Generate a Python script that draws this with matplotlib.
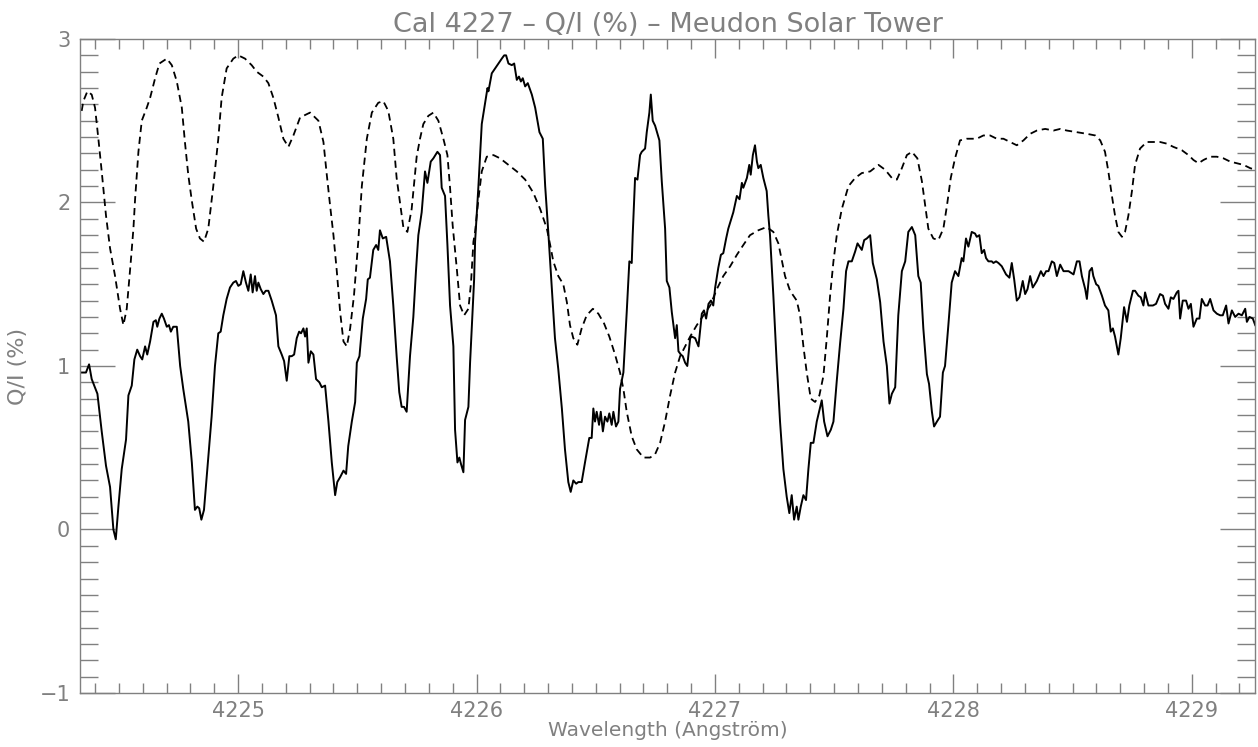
import matplotlib
matplotlib.use("Agg")
import matplotlib.pyplot as plt
from matplotlib.ticker import MultipleLocator

# Q/I (%) observed (solid) - wavelength in Angstrom
wl_obs = [
    4224.337, 4224.362, 4224.375, 4224.386, 4224.410, 4224.428, 4224.446, 4224.463, 4224.477, 4224.487,
    4224.498, 4224.512, 4224.530, 4224.540, 4224.554, 4224.565, 4224.577, 4224.589, 4224.598, 4224.610,
    4224.619, 4224.631, 4224.645, 4224.655, 4224.661, 4224.670, 4224.680, 4224.689, 4224.701, 4224.710,
    4224.718, 4224.728, 4224.743, 4224.757, 4224.770, 4224.791, 4224.806, 4224.819, 4224.829, 4224.837,
    4224.846, 4224.857, 4224.871, 4224.889, 4224.903, 4224.917, 4224.927, 4224.938, 4224.952, 4224.966,
    4224.980, 4224.991, 4225.001, 4225.011, 4225.022, 4225.033, 4225.043, 4225.053, 4225.061, 4225.071,
    4225.078, 4225.085, 4225.095, 4225.106, 4225.116, 4225.127, 4225.141, 4225.159, 4225.169, 4225.183,
    4225.193, 4225.204, 4225.215, 4225.225, 4225.235, 4225.246, 4225.256, 4225.264, 4225.274, 4225.281,
    4225.288, 4225.295, 4225.305, 4225.316, 4225.327, 4225.341, 4225.351, 4225.365, 4225.379, 4225.393,
    4225.407, 4225.416, 4225.428, 4225.442, 4225.453, 4225.462, 4225.477, 4225.491, 4225.498, 4225.509,
    4225.523, 4225.537, 4225.544, 4225.553, 4225.567, 4225.579, 4225.588, 4225.595, 4225.607, 4225.621,
    4225.637, 4225.651, 4225.665, 4225.676, 4225.686, 4225.696, 4225.707, 4225.721, 4225.735, 4225.746,
    4225.756, 4225.770, 4225.784, 4225.794, 4225.808, 4225.819, 4225.836, 4225.847, 4225.854, 4225.868,
    4225.878, 4225.889, 4225.903, 4225.910, 4225.920, 4225.928, 4225.935, 4225.945, 4225.952, 4225.966,
    4225.973, 4225.984, 4225.990, 4225.994, 4226.008, 4226.022, 4226.046, 4226.050, 4226.064, 4226.078,
    4226.092, 4226.106, 4226.116, 4226.124, 4226.134, 4226.148, 4226.158, 4226.169, 4226.178, 4226.186,
    4226.194, 4226.204, 4226.215, 4226.232, 4226.246, 4226.264, 4226.278, 4226.288, 4226.301, 4226.316,
    4226.329, 4226.343, 4226.358, 4226.371, 4226.385, 4226.395, 4226.406, 4226.418, 4226.427, 4226.441,
    4226.455, 4226.473, 4226.483, 4226.490, 4226.497, 4226.504, 4226.514, 4226.521, 4226.530, 4226.539,
    4226.549, 4226.557, 4226.567, 4226.574, 4226.585, 4226.595, 4226.602, 4226.616, 4226.630, 4226.641,
    4226.651, 4226.655, 4226.665, 4226.675, 4226.686, 4226.693, 4226.707, 4226.714, 4226.725, 4226.731,
    4226.739, 4226.749, 4226.767, 4226.777, 4226.791, 4226.798, 4226.809, 4226.819, 4226.833, 4226.840,
    4226.847, 4226.857, 4226.865, 4226.875, 4226.884, 4226.896, 4226.903, 4226.917, 4226.931, 4226.945,
    4226.954, 4226.963, 4226.973, 4226.983, 4226.993, 4227.001, 4227.014, 4227.025, 4227.035, 4227.047,
    4227.056, 4227.077, 4227.092, 4227.103, 4227.113, 4227.119, 4227.134, 4227.144, 4227.150, 4227.159,
    4227.168, 4227.176, 4227.182, 4227.192, 4227.203, 4227.217, 4227.224, 4227.231, 4227.245, 4227.259,
    4227.273, 4227.287, 4227.301, 4227.312, 4227.322, 4227.332, 4227.343, 4227.350, 4227.360, 4227.371,
    4227.382, 4227.392, 4227.402, 4227.413, 4227.427, 4227.448, 4227.458, 4227.472, 4227.486, 4227.497,
    4227.511, 4227.525, 4227.539, 4227.550, 4227.560, 4227.574, 4227.588, 4227.598, 4227.616, 4227.626,
    4227.637, 4227.651, 4227.662, 4227.679, 4227.693, 4227.707, 4227.721, 4227.732, 4227.742, 4227.756,
    4227.769, 4227.784, 4227.798, 4227.811, 4227.826, 4227.840, 4227.853, 4227.863, 4227.874, 4227.889,
    4227.898, 4227.910, 4227.919, 4227.931, 4227.944, 4227.956, 4227.965, 4227.979, 4227.993, 4228.007,
    4228.021, 4228.035, 4228.042, 4228.053, 4228.063, 4228.077, 4228.091, 4228.098, 4228.109, 4228.119,
    4228.129, 4228.137, 4228.147, 4228.161, 4228.168, 4228.179, 4228.189, 4228.203, 4228.221, 4228.235,
    4228.245, 4228.255, 4228.266, 4228.277, 4228.291, 4228.301, 4228.311, 4228.322, 4228.333, 4228.350,
    4228.367, 4228.378, 4228.389, 4228.399, 4228.413, 4228.423, 4228.434, 4228.448, 4228.462, 4228.483,
    4228.504, 4228.518, 4228.529, 4228.539, 4228.553, 4228.560, 4228.571, 4228.581, 4228.587, 4228.599,
    4228.608, 4228.623, 4228.636, 4228.650, 4228.660, 4228.669, 4228.678, 4228.692, 4228.702, 4228.716,
    4228.728, 4228.738, 4228.753, 4228.762, 4228.776, 4228.786, 4228.797, 4228.804, 4228.818, 4228.837,
    4228.850, 4228.867, 4228.879, 4228.888, 4228.902, 4228.912, 4228.923, 4228.937, 4228.944, 4228.951,
    4228.962, 4228.976, 4228.986, 4228.996, 4229.007, 4229.021, 4229.032, 4229.042, 4229.056, 4229.066,
    4229.077, 4229.091, 4229.105, 4229.119, 4229.130, 4229.144, 4229.154, 4229.168, 4229.182, 4229.196,
    4229.210, 4229.224, 4229.231, 4229.242, 4229.256, 4229.266,
]
qi_obs = [
    0.96, 0.96, 1.01, 0.92, 0.83, 0.60, 0.39, 0.26, 0.00, -0.06,
    0.14, 0.37, 0.55, 0.82, 0.88, 1.04, 1.10, 1.06, 1.04, 1.12,
    1.07, 1.15, 1.27, 1.28, 1.24, 1.29, 1.32, 1.29, 1.24, 1.25,
    1.21, 1.24, 1.24, 1.00, 0.86, 0.66, 0.41, 0.12, 0.14, 0.13,
    0.06, 0.12, 0.37, 0.69, 1.00, 1.20, 1.21, 1.31, 1.41, 1.48,
    1.51, 1.52, 1.49, 1.50, 1.58, 1.51, 1.46, 1.56, 1.45, 1.55,
    1.46, 1.51, 1.47, 1.44, 1.46, 1.46, 1.40, 1.31, 1.12, 1.07,
    1.03, 0.91, 1.06, 1.06, 1.07, 1.17, 1.21, 1.20, 1.23, 1.18,
    1.23, 1.02, 1.09, 1.07, 0.92, 0.90, 0.87, 0.88, 0.66, 0.41,
    0.21, 0.29, 0.32, 0.36, 0.34, 0.51, 0.66, 0.78, 1.02, 1.06,
    1.29, 1.41, 1.53, 1.54, 1.71, 1.74, 1.71, 1.83, 1.78, 1.79,
    1.64, 1.37, 1.06, 0.84, 0.75, 0.75, 0.72, 1.06, 1.30, 1.58,
    1.80, 1.94, 2.19, 2.12, 2.25, 2.27, 2.31, 2.29, 2.09, 2.04,
    1.74, 1.37, 1.12, 0.61, 0.41, 0.44, 0.40, 0.35, 0.67, 0.75,
    1.02, 1.35, 1.53, 1.76, 2.10, 2.48, 2.70, 2.68, 2.79, 2.82,
    2.85, 2.88, 2.90, 2.90, 2.85, 2.84, 2.85, 2.75, 2.77, 2.74,
    2.76, 2.71, 2.73, 2.66, 2.58, 2.43, 2.39, 2.10, 1.82, 1.47,
    1.17, 0.98, 0.74, 0.49, 0.29, 0.23, 0.30, 0.28, 0.29, 0.29,
    0.41, 0.56, 0.56, 0.74, 0.66, 0.72, 0.64, 0.72, 0.60, 0.69,
    0.66, 0.71, 0.64, 0.72, 0.63, 0.66, 0.86, 0.96, 1.33, 1.64,
    1.63, 1.80, 2.15, 2.14, 2.29, 2.31, 2.33, 2.43, 2.55, 2.66,
    2.50, 2.47, 2.38, 2.13, 1.84, 1.52, 1.48, 1.33, 1.17, 1.25,
    1.09, 1.07, 1.06, 1.02, 1.00, 1.17, 1.18, 1.17, 1.12, 1.32,
    1.34, 1.29, 1.38, 1.40, 1.37, 1.48, 1.60, 1.68, 1.69, 1.78,
    1.84, 1.94, 2.04, 2.02, 2.12, 2.09, 2.15, 2.23, 2.17, 2.29,
    2.35, 2.25, 2.21, 2.23, 2.15, 2.07, 1.92, 1.80, 1.43, 1.02,
    0.66, 0.37, 0.20, 0.10, 0.21, 0.06, 0.14, 0.06, 0.14, 0.21,
    0.18, 0.37, 0.53, 0.53, 0.66, 0.79, 0.66, 0.57, 0.61, 0.66,
    0.91, 1.14, 1.35, 1.58, 1.64, 1.64, 1.70, 1.75, 1.71, 1.77,
    1.78, 1.80, 1.63, 1.53, 1.39, 1.15, 1.00, 0.77, 0.83, 0.87,
    1.31, 1.58, 1.64, 1.82, 1.85, 1.80, 1.55, 1.51, 1.23, 0.95,
    0.89, 0.72, 0.63, 0.66, 0.69, 0.96, 1.00, 1.25, 1.51, 1.58,
    1.55, 1.66, 1.64, 1.78, 1.73, 1.82, 1.81, 1.79, 1.80, 1.69,
    1.71, 1.66, 1.64, 1.64, 1.63, 1.64, 1.63, 1.61, 1.56, 1.54,
    1.63, 1.53, 1.40, 1.42, 1.52, 1.44, 1.47, 1.55, 1.48, 1.52,
    1.58, 1.55, 1.58, 1.58, 1.64, 1.63, 1.55, 1.62, 1.58, 1.58,
    1.56, 1.64, 1.64, 1.55, 1.47, 1.41, 1.58, 1.60, 1.55, 1.50,
    1.49, 1.43, 1.37, 1.34, 1.21, 1.23, 1.18, 1.07, 1.17, 1.36,
    1.27, 1.37, 1.46, 1.46, 1.43, 1.42, 1.37, 1.45, 1.37, 1.37,
    1.38, 1.44, 1.43, 1.38, 1.35, 1.42, 1.41, 1.45, 1.46, 1.29,
    1.40, 1.40, 1.35, 1.38, 1.24, 1.29, 1.29, 1.41, 1.37, 1.37,
    1.41, 1.34, 1.32, 1.31, 1.31, 1.37, 1.26, 1.34, 1.30, 1.32,
    1.31, 1.35, 1.27, 1.30, 1.29, 1.25,
]

# reference profile (dashed)
wl_ref = [
    4224.344, 4224.351, 4224.368, 4224.386, 4224.400, 4224.414, 4224.428, 4224.446, 4224.463, 4224.484,
    4224.505, 4224.519, 4224.533, 4224.550, 4224.561, 4224.568, 4224.582, 4224.596, 4224.617, 4224.631,
    4224.652, 4224.670, 4224.701, 4224.722, 4224.743, 4224.764, 4224.777, 4224.791, 4224.806, 4224.824,
    4224.840, 4224.857, 4224.875, 4224.896, 4224.917, 4224.931, 4224.952, 4224.980, 4225.001, 4225.029,
    4225.057, 4225.078, 4225.106, 4225.127, 4225.148, 4225.169, 4225.190, 4225.211, 4225.232, 4225.260,
    4225.302, 4225.337, 4225.358, 4225.372, 4225.386, 4225.400, 4225.414, 4225.428, 4225.442, 4225.456,
    4225.470, 4225.486, 4225.504, 4225.519, 4225.540, 4225.561, 4225.588, 4225.609, 4225.630, 4225.651,
    4225.665, 4225.679, 4225.693, 4225.710, 4225.728, 4225.749, 4225.763, 4225.777, 4225.798, 4225.819,
    4225.840, 4225.861, 4225.878, 4225.889, 4225.900, 4225.917, 4225.931, 4225.948, 4225.966, 4225.977,
    4225.987, 4225.994, 4226.008, 4226.022, 4226.043, 4226.071, 4226.099, 4226.134, 4226.169, 4226.204,
    4226.238, 4226.267, 4226.295, 4226.309, 4226.322, 4226.343, 4226.364, 4226.379, 4226.392, 4226.406,
    4226.423, 4226.441, 4226.462, 4226.488, 4226.511, 4226.535, 4226.557, 4226.581, 4226.602, 4226.616,
    4226.630, 4226.651, 4226.672, 4226.700, 4226.728, 4226.749, 4226.770, 4226.791, 4226.812, 4226.833,
    4226.854, 4226.875, 4226.896, 4226.924, 4226.952, 4226.980, 4227.008, 4227.035, 4227.064, 4227.092,
    4227.119, 4227.147, 4227.182, 4227.217, 4227.245, 4227.266, 4227.294, 4227.315, 4227.343, 4227.357,
    4227.371, 4227.385, 4227.402, 4227.420, 4227.438, 4227.455, 4227.469, 4227.483, 4227.497, 4227.511,
    4227.532, 4227.560, 4227.588, 4227.616, 4227.651, 4227.686, 4227.714, 4227.742, 4227.763, 4227.784,
    4227.805, 4227.826, 4227.849, 4227.868, 4227.882, 4227.895, 4227.916, 4227.937, 4227.958, 4227.973,
    4227.989, 4228.007, 4228.028, 4228.056, 4228.098, 4228.126, 4228.154, 4228.182, 4228.210, 4228.238,
    4228.266, 4228.294, 4228.322, 4228.350, 4228.385, 4228.420, 4228.448, 4228.476, 4228.518, 4228.560,
    4228.595, 4228.616, 4228.636, 4228.650, 4228.665, 4228.678, 4228.692, 4228.707, 4228.720, 4228.734,
    4228.749, 4228.762, 4228.783, 4228.811, 4228.839, 4228.867, 4228.895, 4228.923, 4228.958, 4228.986,
    4229.007, 4229.028, 4229.049, 4229.077, 4229.105, 4229.133, 4229.161, 4229.189, 4229.217, 4229.245,
    4229.266,
]
qi_ref = [
    2.56, 2.62, 2.68, 2.66, 2.58, 2.39, 2.19, 1.92, 1.72, 1.55,
    1.35, 1.25, 1.35, 1.64, 1.84, 2.02, 2.31, 2.50, 2.58, 2.64,
    2.76, 2.85, 2.88, 2.84, 2.74, 2.58, 2.37, 2.17, 2.01, 1.84,
    1.78, 1.76, 1.84, 2.10, 2.39, 2.64, 2.82, 2.88, 2.90, 2.88,
    2.84, 2.80, 2.77, 2.73, 2.64, 2.52, 2.39, 2.34, 2.41, 2.52,
    2.55, 2.50, 2.37, 2.17, 1.98, 1.80, 1.58, 1.33, 1.15, 1.12,
    1.23, 1.43, 1.76, 2.10, 2.39, 2.55, 2.61, 2.62, 2.56, 2.39,
    2.15, 2.00, 1.85, 1.82, 1.96, 2.28, 2.39, 2.48, 2.53, 2.55,
    2.50, 2.39, 2.29, 2.09, 1.86, 1.60, 1.37, 1.31, 1.35, 1.51,
    1.76, 1.82, 2.02, 2.19, 2.28, 2.29, 2.27, 2.23, 2.19, 2.14,
    2.06, 1.96, 1.84, 1.74, 1.64, 1.55, 1.50, 1.39, 1.25, 1.17,
    1.13, 1.23, 1.31, 1.35, 1.32, 1.26, 1.18, 1.07, 0.96, 0.86,
    0.72, 0.57, 0.49, 0.44, 0.44, 0.46, 0.53, 0.66, 0.82, 0.96,
    1.06, 1.12, 1.18, 1.25, 1.31, 1.37, 1.47, 1.55, 1.61, 1.68,
    1.74, 1.80, 1.83, 1.85, 1.82, 1.75, 1.55, 1.46, 1.40, 1.31,
    1.12, 0.96, 0.80, 0.78, 0.82, 0.94, 1.17, 1.43, 1.64, 1.80,
    1.96, 2.10, 2.15, 2.18, 2.19, 2.23, 2.20, 2.15, 2.14, 2.21,
    2.29, 2.31, 2.27, 2.13, 1.98, 1.84, 1.78, 1.77, 1.84, 1.98,
    2.15, 2.27, 2.38, 2.39, 2.39, 2.41, 2.41, 2.39, 2.39, 2.37,
    2.35, 2.38, 2.42, 2.44, 2.45, 2.44, 2.45, 2.44, 2.43, 2.42,
    2.41, 2.38, 2.31, 2.19, 2.04, 1.92, 1.82, 1.79, 1.82, 1.92,
    2.07, 2.23, 2.33, 2.37, 2.37, 2.37, 2.36, 2.34, 2.32, 2.29,
    2.26, 2.24, 2.26, 2.28, 2.28, 2.27, 2.25, 2.24, 2.23, 2.21,
    2.20,
]

x_range = (4224.337, 4229.265)
y_range = (-1, 3)
title = "Cal 4227 \u2013 Q/I (%) \u2013 Meudon Solar Tower"
xtitle = "Wavelength (Angstr\u00f6m)"
ytitle = "Q/I (%)"

grey = "#808080"
plt.rcParams["font.family"] = "DejaVu Sans"

fig = plt.figure(figsize=(12.58, 7.47), dpi=100)
ax = fig.add_axes([0.0636, 0.0723, 0.934, 0.8755])

ax.plot(wl_ref, qi_ref, color="black", lw=1.3, dashes=(4, 2.6))
ax.plot(wl_obs, qi_obs, color="black", lw=1.4)

ax.set_xlim(*x_range)
ax.set_ylim(*y_range)

ax.xaxis.set_major_locator(MultipleLocator(1))
ax.xaxis.set_minor_locator(MultipleLocator(0.1))
ax.yaxis.set_major_locator(MultipleLocator(1))
ax.yaxis.set_minor_locator(MultipleLocator(0.1))
ax.ticklabel_format(useOffset=False)

# IDL-ish frame: inward ticks on all four sides
ax.tick_params(which="both", direction="in", top=True, right=True,
               color=grey, labelcolor=grey, labelsize=15, width=1.0)
ax.tick_params(axis="x", which="major", length=14, pad=6)
ax.tick_params(axis="x", which="minor", length=7)
ax.tick_params(axis="y", which="major", length=25, pad=7)
ax.tick_params(axis="y", which="minor", length=13)
for s in ax.spines.values():
    s.set_color(grey)
    s.set_linewidth(1.0)

ax.set_title(title, color=grey, fontsize=19.5, pad=5)
ax.set_xlabel(xtitle, color=grey, fontsize=14.5, labelpad=0)
ax.set_ylabel(ytitle, color=grey, fontsize=16, labelpad=8)

fig.savefig("out.png", dpi=100)
